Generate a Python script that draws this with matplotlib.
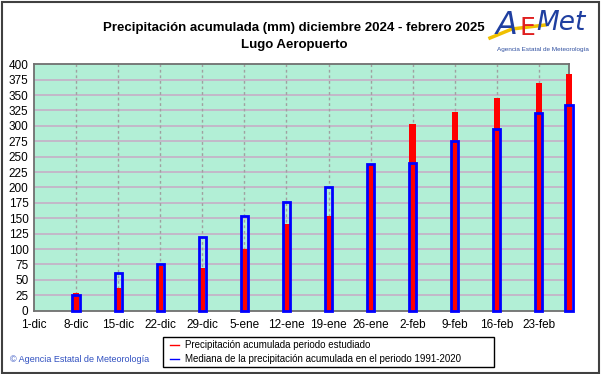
import matplotlib
matplotlib.use("Agg")
import matplotlib.pyplot as plt
import numpy as np
from matplotlib.patches import Rectangle

# === Data ===
tick_days = [0, 7, 14, 21, 28, 35, 42, 49, 56, 63, 70, 77, 84]
tick_labels = ["1-dic", "8-dic", "15-dic", "22-dic", "29-dic", "5-ene", "12-ene",
               "19-ene", "26-ene", "2-feb", "9-feb", "16-feb", "23-feb"]
bar_days = [7, 14, 21, 28, 35, 42, 49, 56, 63, 70, 77, 84, 89]
observed = [28, 37, 72, 70, 100, 141, 153, 237, 303, 323, 346, 370, 384]
median = [26, 61, 76, 119, 153, 177, 200, 238, 239, 276, 295, 321, 334]

plt.rcParams["font.family"] = ["Liberation Sans", "DejaVu Sans"]

W, H = 601, 374
fig = plt.figure(figsize=(W / 100, H / 100), dpi=100)
fig.patch.set_facecolor("white")

# outer frame
fig.add_artist(Rectangle((0.003, 0.004), 0.993, 0.99, transform=fig.transFigure,
                         fill=False, edgecolor="#404040", linewidth=1.5))

ax = fig.add_axes([0.0566, 0.1693, 0.890, 0.6588])
ax.set_facecolor("#b2efd6")
ax.set_xlim(0, 89)
ax.set_ylim(0, 400)

ax.set_yticks(np.arange(0, 401, 25))
ax.set_xticks(tick_days)
ax.set_xticklabels(tick_labels)
ax.tick_params(axis="both", length=0, labelsize=8.5, colors="black")
ax.tick_params(axis="x", pad=6)
ax.tick_params(axis="y", pad=4)

for y in np.arange(25, 400, 25):
    ax.axhline(y, color="#c4b4c8", linewidth=1.3, zorder=1)
for d in tick_days[1:]:
    ax.axvline(d, color="#a0a0a0", linewidth=1, linestyle=(0, (2, 2)), zorder=1)

for s in ax.spines.values():
    s.set_color("#707070")
    s.set_linewidth(1.3)

# observed accumulated precipitation (red)
ax.bar(bar_days, observed, width=1.05, color="#ff0000", zorder=3, clip_on=False)
# median 1991-2020 (blue outline)
ax.bar(bar_days, median, width=1.2, facecolor="none", edgecolor="#0000ff",
       linewidth=2.0, zorder=4, clip_on=False)

# titles
fig.text(294 / W, 1 - 28 / H, "Precipitación acumulada (mm) diciembre 2024 - febrero 2025",
         ha="center", va="center", fontsize=9.5, fontweight="bold")
fig.text(294 / W, 1 - 45 / H, "Lugo Aeropuerto", ha="center", va="center",
         fontsize=9.5, fontweight="bold")

# logo approximation
fig.add_artist(plt.Line2D([490 / W, 512 / W, 545 / W], [1 - 38 / H, 1 - 29 / H, 1 - 25 / H],
                          transform=fig.transFigure, color="#f0c000", linewidth=2.5))
fig.text(496 / W, 1 - 25 / H, "A", color="#1f3fa0", fontsize=23, style="italic",
         ha="left", va="center", family="DejaVu Sans")
fig.text(520 / W, 1 - 28 / H, "E", color="#e02020", fontsize=18,
         ha="left", va="center", family="DejaVu Sans")
fig.text(536 / W, 1 - 23 / H, "Met", color="#1f3fa0", fontsize=19, style="italic",
         ha="left", va="center", family="DejaVu Sans")
fig.text(543 / W, 1 - 49 / H, "Agencia Estatal de Meteorología", color="#3050a0",
         fontsize=4.6, ha="center", va="center")

# legend box
lx0, ly0, lx1, ly1 = 163 / W, 1 - 367 / H, 494 / W, 1 - 337 / H
fig.add_artist(Rectangle((lx0, ly0), lx1 - lx0, ly1 - ly0, transform=fig.transFigure,
                         facecolor="white", edgecolor="black", linewidth=1))
for yy, col, txt in [(1 - 345 / H, "#ff0000", "Precipitación acumulada periodo estudiado"),
                     (1 - 359 / H, "#0000ff", "Mediana de la precipitación acumulada en el periodo 1991-2020")]:
    fig.add_artist(plt.Line2D([170 / W, 179 / W], [yy, yy], transform=fig.transFigure,
                              color=col, linewidth=1))
    fig.text(185 / W, yy, txt, fontsize=7, ha="left", va="center")

fig.text(10 / W, 1 - 360 / H, "© Agencia Estatal de Meteorología", color="#3050c0",
         fontsize=6.5, ha="left", va="center")

fig.savefig("out.png", dpi=100)
